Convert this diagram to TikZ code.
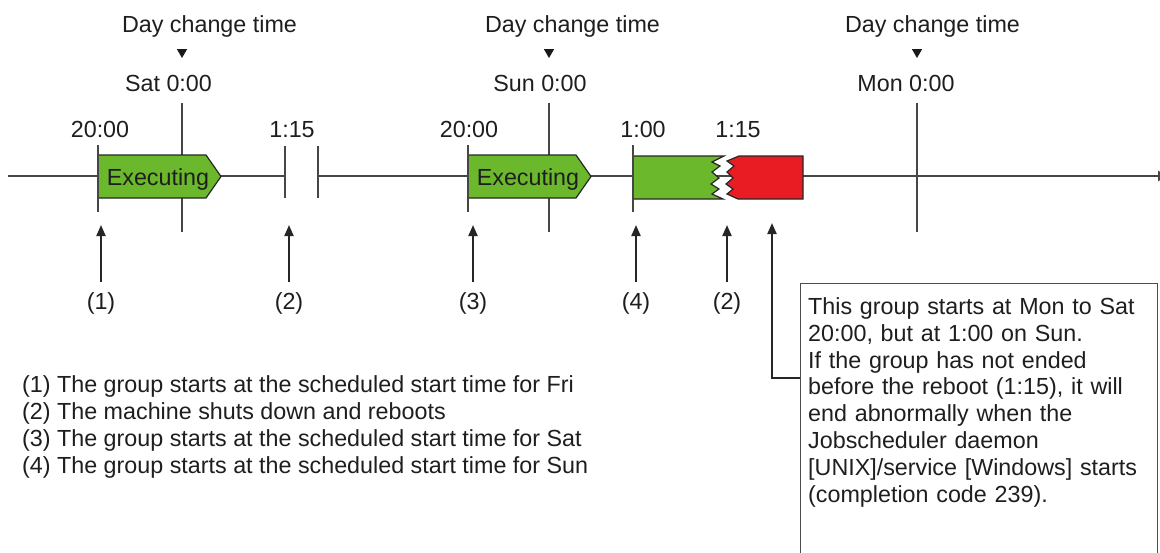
\documentclass[tikz,border=0pt]{standalone}
\usepackage{fontspec}
\setmainfont{Liberation Sans}
\usetikzlibrary{arrows.meta, positioning, shapes.geometric}
\definecolor{rungreen}{RGB}{108, 184, 44}
\definecolor{abendred}{RGB}{233, 28, 36}
\definecolor{linegray}{RGB}{70, 70, 70}
\definecolor{txtgray}{RGB}{30, 30, 30}
\newcommand{\txtfont}{\fontsize{23.3}{26.8}\selectfont}

\begin{document}
\begin{tikzpicture}[
          x=1pt, y=-1pt,
          lbl/.style={font=\txtfont, text=txtgray, inner sep=0pt, anchor=base},
          tline/.style={draw=linegray, line width=2pt},
          tick/.style={draw=linegray, line width=1.8pt},
          jobbox/.style={draw=black!85, line width=1.2pt, line join=miter},
          uparr/.style={-{Triangle[length=11pt, width=9pt]}, line width=2pt, draw=black!85},
          daymark/.style={regular polygon, regular polygon sides=3, shape border rotate=180, fill=black!90, inner sep=0pt, minimum size=12pt},
          notebox/.style={draw=black!70, line width=1.2pt, minimum width=357pt, minimum height=300pt, anchor=north west},
          notetext/.style={font=\txtfont, text=txtgray, text width=343pt, align=left, inner sep=0pt, anchor=north west}
        ]
          \useasboundingbox (0,0) rectangle (1160,552);

          % time line with the break at 1:15
          \coordinate (tlstart) at (8,176);
          \coordinate (brkl) at (285,176);
          \coordinate (brkr) at (318,176);
          \coordinate (tlend) at (1168,176);
          \draw[tline] (tlstart) -- (brkl);
          \draw[tline, -{Triangle[length=10pt, width=10pt]}] (brkr) -- (tlend);

          % day change times
          \foreach \x/\d/\tx/\sx [count=\i] in {182/Sat/209.5/168.5, 549/Sun/572.5/540, 917/Mon/932.5/906} {
            \draw[tick] (\x,103) -- (\x,232);
            \node[lbl] (dct\i) at (\tx,32) {Day change time};
            \node[daymark] (dm\i) at (\x,52) {};
            \node[lbl] (day\i) at (\sx,91) {\d\ 0:00};
          }

          % executing groups
          \foreach \x [count=\i] in {98, 468} {
            \draw[jobbox, fill=rungreen] (\x,155) -- ++(108,0) -- ++(15,21.5) -- ++(-15,21.5) -- ++(-108,0) -- cycle;
            \node[lbl] (exec\i) at (\x+60,185) {Executing};
          }

          % Sun run, broken by the reboot
          \draw[jobbox, fill=rungreen] (633,156) -- (724,156) -- (712,162) -- (720,166) -- (712,172) -- (719,178)
            -- (711,184) -- (719,189) -- (712,194) -- (723,199) -- (633,199) -- cycle;
          \draw[jobbox, fill=abendred] (739,156) -- (803,156) -- (803,199) -- (738,199) -- (727,194) -- (733,189)
            -- (726,184) -- (733,178) -- (727,172) -- (734,166) -- (727,161) -- cycle;

          % start and reboot marks
          \foreach \x in {98, 468, 633} \draw[tick] (\x,145) -- (\x,212);
          \foreach \x in {285, 318} \draw[tick] (\x,146) -- (\x,198);
          \foreach \x/\t [count=\i] in {100/20:00, 292/1:15, 469/20:00, 643/1:00, 738/1:15}
            \node[lbl] (tm\i) at (\x,137) {\t};

          % event arrows
          \foreach \x/\t/\n in {101/1/a, 289/2/b, 473/3/c, 636/4/d, 727/2/e} {
            \node[lbl] (mk\n) at (\x,309) {(\t)};
            \coordinate (hit\n) at (\x,225);
            \draw[uparr] ([yshift=10pt]mk\n.north) -- (hit\n);
          }

          % note on the Sun group
          \node[notebox] (note) at (800,283) {};
          \node[notetext] (notetxt) at (808,297.5) {This group starts at Mon to Sat\\20:00, but at 1:00 on Sun.\\If the group has not ended\\before the reboot (1:15), it will\\end abnormally when the\\Jobscheduler daemon\\{[UNIX]}/service [Windows] starts\\(completion code 239).};
          \coordinate (hitf) at (772,223);
          \coordinate (elb) at (772,378);
          \draw[uparr] (note.west |- elb) -- (elb) -- (hitf);

          % legend
          \foreach \s [count=\i from 0] in {(1) The group starts at the scheduled start time for Fri,
              (2) The machine shuts down and reboots,
              (3) The group starts at the scheduled start time for Sat,
              (4) The group starts at the scheduled start time for Sun}
            \node[lbl, anchor=base west] (leg\i) at ({22},{392+27*\i}) {\s};
        \end{tikzpicture}
\end{document}
